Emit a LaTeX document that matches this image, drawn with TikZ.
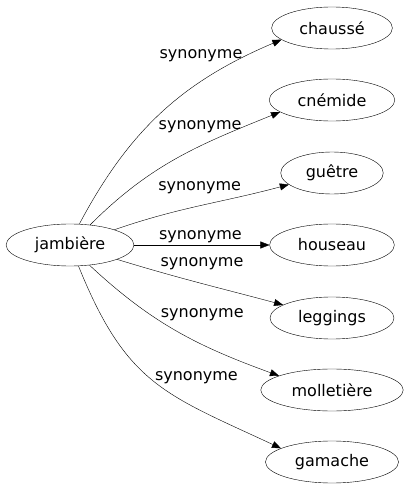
\documentclass[tikz,border=0pt]{standalone}
\usepackage{fontspec}
\setmainfont{DejaVu Sans}
\usetikzlibrary{arrows.meta, shapes.geometric, positioning}

\tikzset{
  word/.style={draw, ellipse, inner xsep=10pt, minimum height=42pt, font=\fontsize{16}{18}\selectfont},
  rel/.style={font=\fontsize{16}{18}\selectfont, inner sep=1pt},
}

\begin{document}
\begin{tikzpicture}[x=1pt, y=1pt, >={Triangle[length=9pt, width=7pt]}]
\useasboundingbox (0,0) rectangle (409,491);
\node[word] at(70,246)(jambiere){jambière};
\node[word] at(332,463)(chausse){chaussé};
\node[word] at(332,391)(cnemide){cnémide};
\node[word] at(332,318)(guetre){guêtre};
\node[word] at(332,246)(houseau){houseau};
\node[word] at(332,173)(leggings){leggings};
\node[word] at(332,101)(molletiere){molletière};
\node[word] at(332,29)(gamache){gamache};
\path[->]
    (jambiere.66) edge[out=62, in=203] node[rel, pos=.86, anchor=south east, xshift=1pt, yshift=-5pt]{synonyme} (chausse.193)
    (jambiere.45) edge[out=45, in=202] node[rel, pos=.83, anchor=south east, xshift=1pt, yshift=-6pt]{synonyme} (cnemide.193)
    (jambiere) edge[out=19, in=195] node[rel, pos=.75, anchor=south east, yshift=1pt]{synonyme} (guetre)
    (jambiere) edge node[rel, pos=.49, above=1pt]{synonyme} (houseau)
    (jambiere) edge[out=-17, in=165] node[rel, pos=.24, anchor=south west, yshift=1pt]{synonyme} (leggings)
    (jambiere.-46) edge[out=-43, in=160] node[rel, pos=.38, anchor=south west, xshift=3pt, yshift=-3pt]{synonyme} (molletiere.165)
    (jambiere.-68) edge[out=-68, in=155, looseness=1.2] node[rel, pos=.47, anchor=south west, xshift=5pt, yshift=-8pt]{synonyme} (gamache.165);
\end{tikzpicture}
\end{document}
